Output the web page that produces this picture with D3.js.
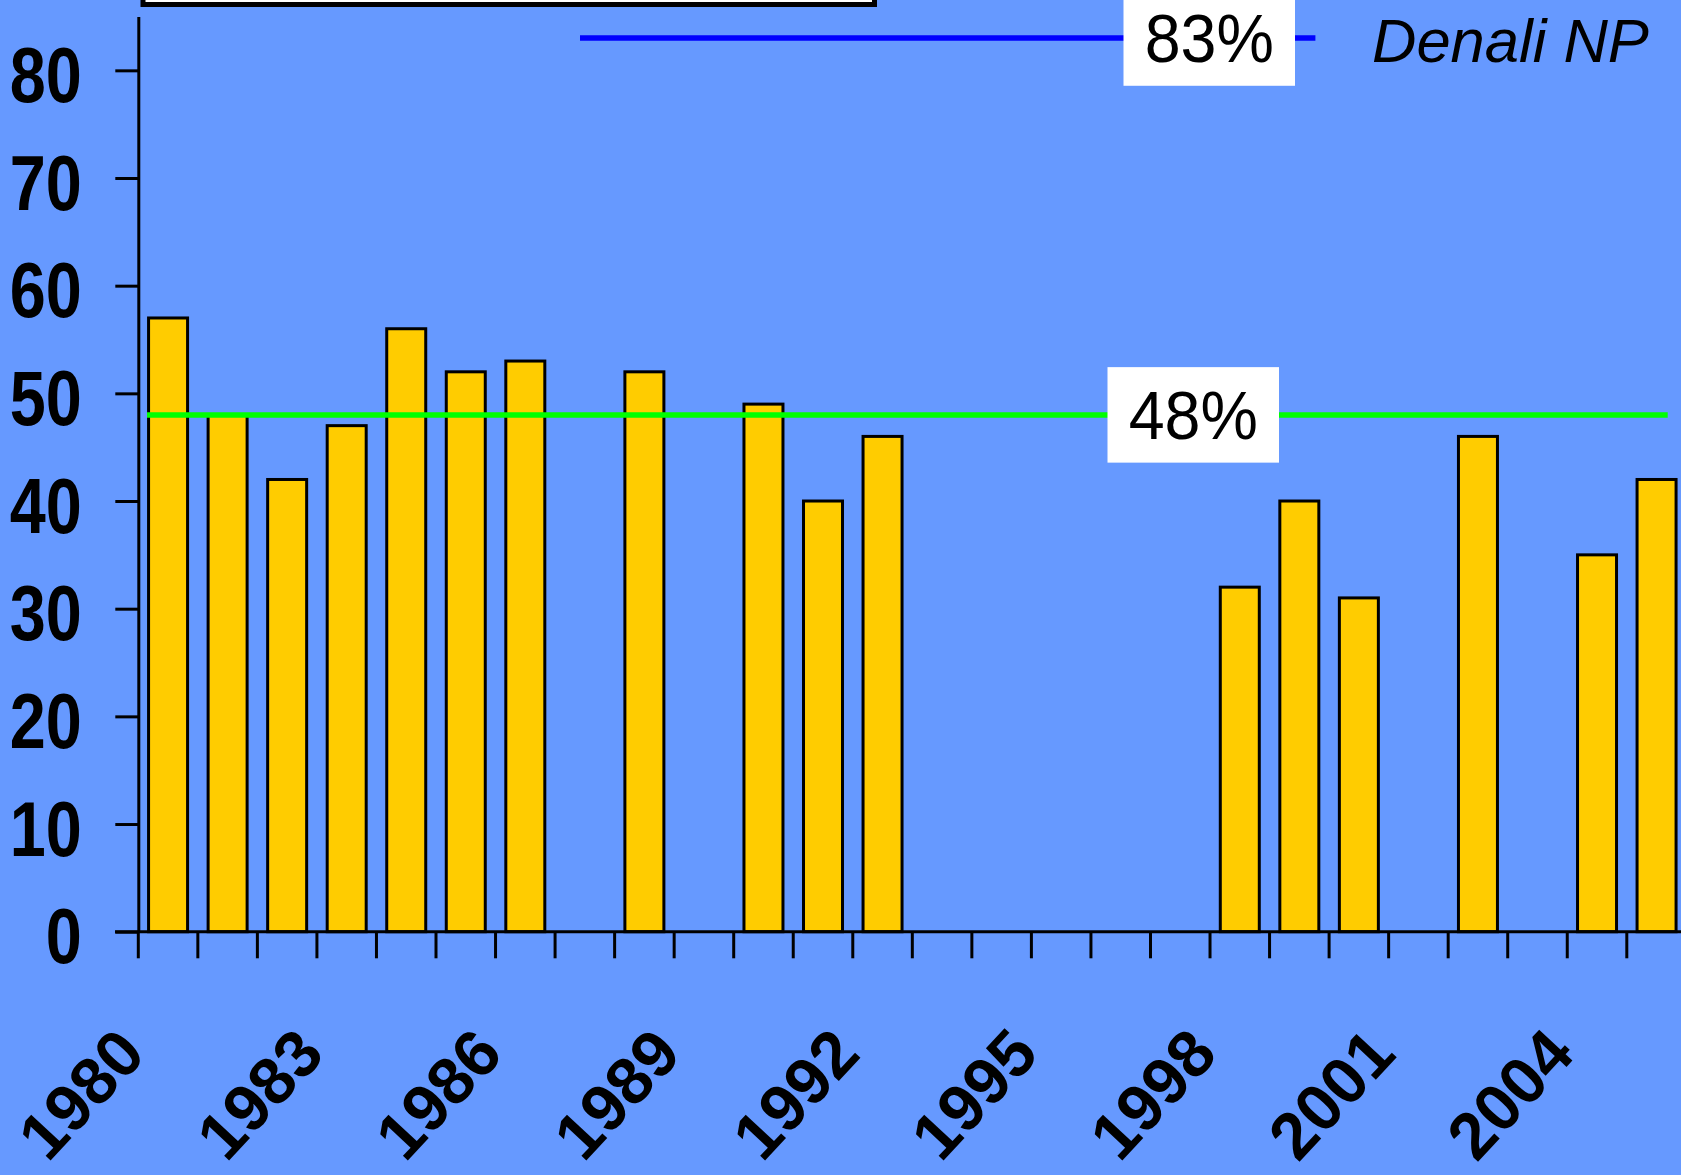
<!DOCTYPE html>
<html>
<head>
<meta charset="utf-8">
<script src="https://cdn.jsdelivr.net/npm/d3@7"></script>
<style>
  html, body { margin: 0; padding: 0; background: #6699FF; overflow: hidden; }
  svg { display: block; }
</style>
</head>
<body>
<script>
// Yearly percentages, 1980–2005 (null = no survey that year)
const years = [1980, 1981, 1982, 1983, 1984, 1985, 1986, 1987, 1988, 1989,
               1990, 1991, 1992, 1993, 1994, 1995, 1996, 1997, 1998, 1999,
               2000, 2001, 2002, 2003, 2004, 2005];
const values = [57, 48, 42, 47, 56, 52, 53, null, 52, null,
                49, 40, 46, null, null, null, null, null, 32, 40,
                31, null, 46, null, 35, 42];
const yTicks = [0, 10, 20, 30, 40, 50, 60, 70, 80];
const labelYears = [1980, 1983, 1986, 1989, 1992, 1995, 1998, 2001, 2004];

// Reference levels drawn as horizontal lines
const denaliValue = 83;
const denaliLabel = "83%";
const denaliName = "Denali NP";
const meanValue = 48;
const meanLabel = "48%";

const W = 1681, H = 1175;
const FONT = "'Liberation Sans', Arial, Helvetica, sans-serif";

const svg = d3.select("body").append("svg")
  .attr("width", W).attr("height", H);

svg.append("rect").attr("width", W).attr("height", H).attr("fill", "#6699FF");

// Title frame (runs off the top edge)
svg.append("rect")
  .attr("x", 143).attr("y", -60).attr("width", 731.5).attr("height", 64.5)
  .attr("fill", "#ffffff").attr("stroke", "#000").attr("stroke-width", 5);

const x0 = 138.3, step = 59.54;
const x = d3.scaleBand().domain(years).range([x0, x0 + step * years.length]).padding(0);
const y = d3.scaleLinear().domain([0, 85]).range([931.7, 16.5]);
const barW = 39;

const data = years.map((yr, i) => ({ year: yr, value: values[i] }))
  .filter(d => d.value !== null);

// Bars
svg.append("g").selectAll("rect").data(data).join("rect")
  .attr("x", d => x(d.year) + (x.bandwidth() - barW) / 2)
  .attr("y", d => y(d.value))
  .attr("width", barW)
  .attr("height", d => y(0) - y(d.value))
  .attr("fill", "#FFCC00")
  .attr("stroke", "#000")
  .attr("stroke-width", 3);

// Mean line with boxed label
const meanY = y(meanValue);
svg.append("line")
  .attr("x1", 147).attr("x2", 1667.7).attr("y1", meanY).attr("y2", meanY)
  .attr("stroke", "#00FF00").attr("stroke-width", 5.5);
svg.append("rect")
  .attr("x", 1107.5).attr("y", meanY - 47.75).attr("width", 171.5).attr("height", 95.5)
  .attr("fill", "#ffffff");
svg.append("text")
  .attr("transform", `translate(1193.3,${meanY + 24}) scale(0.95,1)`)
  .attr("text-anchor", "middle")
  .attr("font-family", FONT).attr("font-size", 68)
  .text(meanLabel);

// Denali NP line with boxed label and name
const denY = y(denaliValue);
svg.append("line")
  .attr("x1", 580).attr("x2", 1315.4).attr("y1", denY).attr("y2", denY)
  .attr("stroke", "#0000FF").attr("stroke-width", 5.5);
svg.append("rect")
  .attr("x", 1123.5).attr("y", denY - 47.75).attr("width", 171.5).attr("height", 95.5)
  .attr("fill", "#ffffff");
svg.append("text")
  .attr("transform", `translate(1209.3,${denY + 24}) scale(0.95,1)`)
  .attr("text-anchor", "middle")
  .attr("font-family", FONT).attr("font-size", 68)
  .text(denaliLabel);
svg.append("text")
  .attr("x", 1372).attr("y", denY + 24)
  .attr("font-family", FONT).attr("font-size", 61.5).attr("font-style", "italic")
  .text(denaliName);

// Y axis
const yAxis = svg.append("g")
  .attr("transform", `translate(${x0},0)`)
  .call(d3.axisLeft(y).tickValues(yTicks).tickSize(23).tickSizeOuter(0).tickFormat(d3.format("d")));
yAxis.select(".domain").attr("stroke", "#000").attr("stroke-width", 3);
yAxis.selectAll(".tick line").attr("stroke", "#000").attr("stroke-width", 3);
yAxis.selectAll(".tick text")
  .attr("x", 0).attr("dy", 0)
  .attr("transform", "translate(-56.6,31) scale(0.83,1)")
  .attr("text-anchor", "end")
  .attr("fill", "#000")
  .attr("font-family", FONT).attr("font-weight", "bold").attr("font-size", 78);

// X axis: baseline, boundary ticks and slanted year labels
svg.append("line")
  .attr("x1", 115).attr("x2", W).attr("y1", y(0)).attr("y2", y(0))
  .attr("stroke", "#000").attr("stroke-width", 3);
svg.append("g").selectAll("line").data(years).join("line")
  .attr("x1", d => x(d)).attr("x2", d => x(d))
  .attr("y1", y(0)).attr("y2", y(0) + 26.6)
  .attr("stroke", "#000").attr("stroke-width", 3);
svg.append("g").selectAll("text").data(labelYears).join("text")
  .attr("transform", d => `translate(${x(d) + 9.5},1056) rotate(-47)`)
  .attr("text-anchor", "end")
  .attr("font-family", FONT).attr("font-weight", "bold").attr("font-size", 66)
  .attr("fill", "#000")
  .text(d => d);
</script>
</body>
</html>
